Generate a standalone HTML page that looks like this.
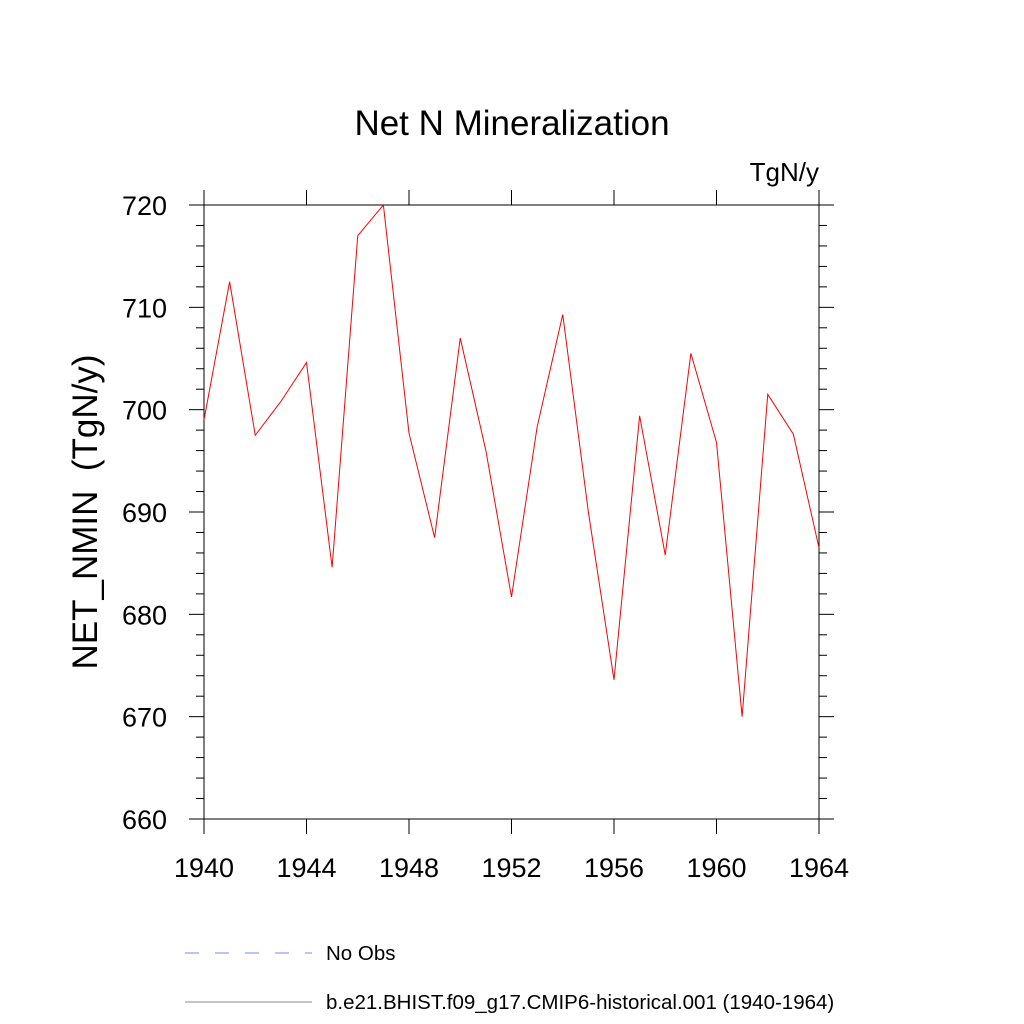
<!DOCTYPE html>
<html><head><meta charset="utf-8"><style>
html,body{margin:0;padding:0;background:#fff;}
svg{display:block;font-family:"Liberation Sans",sans-serif;}
</style></head><body>
<svg id="chart" width="1024" height="1024" viewBox="0 0 1024 1024">
<text x="512" y="135" font-size="35" text-anchor="middle">Net N Mineralization</text>
<text x="819" y="181" font-size="26" text-anchor="end">TgN/y</text>
<text transform="translate(97,512) rotate(-90)" font-size="35" text-anchor="middle" style="white-space:pre" xml:space="preserve">NET_NMIN  (TgN/y)</text>
<g id="axes"></g>
<g id="series"></g>
<g>
<line x1="185" y1="953" x2="312" y2="953" stroke="#8080ff" stroke-width="1" stroke-dasharray="14,16"/>
<text x="326" y="960" font-size="20.5">No Obs</text>
<line x1="185" y1="1002" x2="312" y2="1002" stroke="#888" stroke-width="1"/>
<text x="326" y="1009" font-size="20.5">b.e21.BHIST.f09_g17.CMIP6-historical.001 (1940-1964)</text>
</g>
</svg>
<script>
const years=[1940,1941,1942,1943,1944,1945,1946,1947,1948,1949,1950,1951,1952,1953,1954,1955,1956,1957,1958,1959,1960,1961,1962,1963,1964];
const values=[699,712.5,697.5,700.8,704.6,684.6,717,720,697.7,687.5,707,696,681.7,698.3,709.3,690,673.6,699.4,685.8,705.5,696.8,670,701.5,697.6,686.5];
const xTicks=[1940,1944,1948,1952,1956,1960,1964];
const yTicks=[660,670,680,690,700,710,720];
const NS="http://www.w3.org/2000/svg";
const L=204,R=819,T=205,B=819;
const xs=v=>L+(v-1940)/(1964-1940)*(R-L);
const ys=v=>B-(v-660)/(720-660)*(B-T);
function mk(tag,attrs,parent){const e=document.createElementNS(NS,tag);for(const k in attrs)e.setAttribute(k,attrs[k]);parent.appendChild(e);return e;}
const ax=document.getElementById('axes');
const frame=mk('rect',{x:L,y:T,width:R-L,height:B-T,fill:'none',stroke:'#000','stroke-width':1},ax);


for(let v=660;v<=720;v+=2){
  const major=(v%10===0);const len=major?15:8;const y=ys(v);
  const t1=mk('line',{x1:L-len,y1:y,x2:L,y2:y,stroke:'#000','stroke-width':1},ax);
  
  
  const t2=mk('line',{x1:R,y1:y,x2:R+len,y2:y,stroke:'#000','stroke-width':1},ax);
  
  
}
yTicks.forEach(v=>{
  const t=mk('text',{x:L-37,y:ys(v)+10,'font-size':27,'text-anchor':'end'},ax);t.textContent=v;
  
  
});
xTicks.forEach(v=>{
  const x=xs(v);
  const a=mk('line',{x1:x,y1:B,x2:x,y2:B+15,stroke:'#000','stroke-width':1},ax);
  
  
  const b=mk('line',{x1:x,y1:T-15,x2:x,y2:T,stroke:'#000','stroke-width':1},ax);
  
  
  const t=mk('text',{x:x,y:B+58,'font-size':27,'text-anchor':'middle'},ax);t.textContent=v;
  
  
});
const pts=years.map((y,i)=>xs(y)+','+ys(values[i])).join(' ');
const line=mk('polyline',{points:pts,fill:'none',stroke:'#ff0000','stroke-width':1},document.getElementById('series'));


</script>
</body></html>
